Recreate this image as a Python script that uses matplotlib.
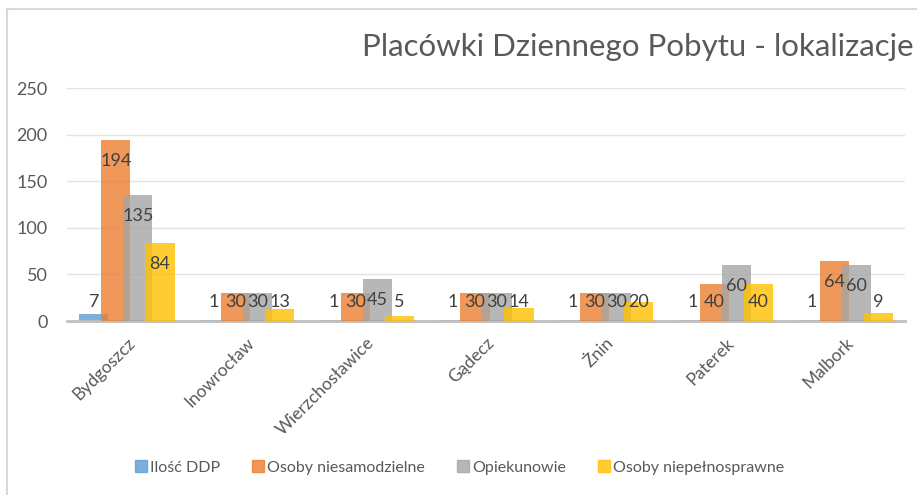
import matplotlib.pyplot as plt
import numpy as np
from matplotlib.lines import Line2D

# Data
places = ["Bydgoszcz", "Inowrocław", "Wierzchosławice", "Gądecz", "Żnin", "Paterek", "Malbork"]
ilosc_ddp = [7, 1, 1, 1, 1, 1, 1]
niesamodzielne = [194, 30, 30, 30, 30, 40, 64]
opiekunowie = [135, 30, 45, 30, 30, 60, 60]
niepelnosprawne = [84, 13, 5, 14, 20, 40, 9]

series = [
    ("Ilość DDP", ilosc_ddp, "#5B9BD5"),
    ("Osoby niesamodzielne", niesamodzielne, "#ED7D31"),
    ("Opiekunowie", opiekunowie, "#A5A5A5"),
    ("Osoby niepełnosprawne", niepelnosprawne, "#FFC000"),
]

plt.rcParams['font.family'] = ['Lato', 'DejaVu Sans']

fig = plt.figure(figsize=(9.17, 4.95), dpi=100)
ax = fig.add_axes([0.073, 0.3515, 0.914, 0.4707])

x = np.arange(len(places))
width = 0.245
step = 0.184

for i, (name, vals, color) in enumerate(series):
    pos = x + (i - 1.5) * step
    ax.bar(pos, vals, width, color=color, alpha=0.8, zorder=2 + i, linewidth=0)
    # labels sit inside the bar top, but never drop below a floor
    for px, v in zip(pos, vals):
        ax.text(px, max(v - 22.5, 20), str(v), ha="center", va="center",
                fontsize=13, color="#404040", zorder=10)

ax.set_xlim(-0.5, len(places) - 0.5)
ax.set_ylim(0, 250)
ax.set_yticks([0, 50, 100, 150, 200, 250])
ax.yaxis.grid(True, color="#E3E3E3", linewidth=1)
ax.set_axisbelow(True)
for s in ["top", "right", "left"]:
    ax.spines[s].set_visible(False)
ax.spines["bottom"].set_color("#BFBFBF")
ax.spines["bottom"].set_linewidth(2)
ax.tick_params(axis="y", length=0, pad=14, labelsize=13, labelcolor="#595959")
ax.tick_params(axis="x", length=0, pad=10, labelsize=12.5, labelcolor="#595959")
ax.set_xticks(x)
ax.set_xticklabels(places, rotation=45, ha="right", rotation_mode="anchor")

fig.text(0.996, 0.905, "Placówki Dziennego Pobytu - lokalizacje", ha="right", va="center",
         fontsize=22.5, color="#595959")

# legend at the bottom
handles = [Line2D([0], [0], marker="s", linestyle="", markersize=8,
                  markerfacecolor=c, markeredgecolor=c, alpha=0.8) for _, _, c in series]
fig.legend(handles, [n for n, _, _ in series], loc="center", bbox_to_anchor=(0.5, 0.055),
           ncol=4, frameon=False, fontsize=11.5, labelcolor="#595959",
           handletextpad=0.05, columnspacing=1.9, handlelength=1)

# light frame on the left and top edges
fig.add_artist(Line2D([7 / 917, 7 / 917], [0, 1 - 9 / 495], color="#D9D9D9", linewidth=1.5))
fig.add_artist(Line2D([7 / 917, 1], [1 - 9 / 495, 1 - 9 / 495], color="#D9D9D9", linewidth=1.5))

fig.savefig("out.png", dpi=100)
